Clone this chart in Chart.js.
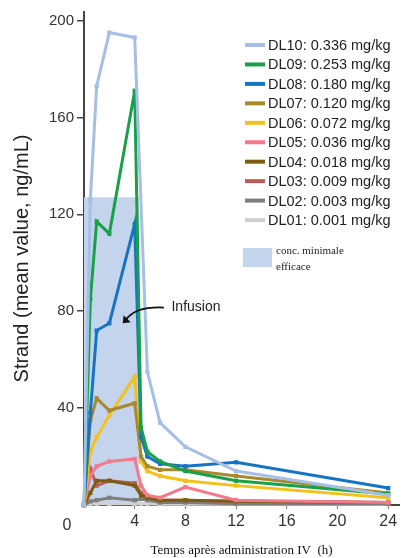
<!DOCTYPE html>
<html lang="fr">
<head>
<meta charset="UTF-8">
<title>Strand DL01-DL10</title>
<script src="https://cdn.jsdelivr.net/npm/chart.js"></script>
<style>
  html, body { margin: 0; padding: 0; background: #fff; }
  #wrap { width: 403px; height: 558px; position: relative; }
</style>
</head>
<body>
<div id="wrap"><canvas id="pkChart"></canvas></div>
<script>
// sampling times (h)
const times = [0, 0.5, 1, 2, 4, 4.5, 5, 6, 8, 12, 24];

// mean concentrations (ng/mL)
const dl10 = [0, 126, 173, 195, 193, null, 55, 34, 24, 14, 4];
const dl09 = [0, 85, 117, 112, 171, 32, 22, 18, 14, 10, 4.5];
const dl08 = [0, 38, 72, 75, 116, 28, 20, 17, 16, 17.6, 7];
const dl07 = [0, 35, 44, 39, 42, 20, 16, 14.5, 14.5, 12, 5];
const dl06 = [0, 22, 28, 37, 53, 18, 14, 12, 10, 8, 3];
const dl05 = [0, 12, 16, 18, 19, 8, 4, 3, 7.4, 2, 1];
const dl04 = [0, 5, 10, 10, 8, 4, 3, 2, 2, 1.5, 1];
const dl03 = [0, 15, 8, 10, 9, 5, 3, 2, 2, 1.5, 1];
const dl02 = [0, 1.5, 2, 3, 2, 2.5, 2, 1, 1, 0.5, 0.5];
const dl01 = [0, 0.5, 0.5, 0.5, 0.5, 0.5, 0.5, 0.3, 0.3, 0.3, 0.3];

const seriesLabels = [
  'DL10: 0.336 mg/kg', 'DL09: 0.253 mg/kg', 'DL08: 0.180 mg/kg', 'DL07: 0.120 mg/kg',
  'DL06: 0.072 mg/kg', 'DL05: 0.036 mg/kg', 'DL04: 0.018 mg/kg', 'DL03: 0.009 mg/kg',
  'DL02: 0.003 mg/kg', 'DL01: 0.001 mg/kg'
];
const seriesValues = [dl10, dl09, dl08, dl07, dl06, dl05, dl04, dl03, dl02, dl01];
const seriesColors = ['#a6bfe4', '#19a04a', '#1574c4', '#a8892c', '#f2c21b',
                      '#f27b8b', '#7b5c12', '#b65f57', '#7e7e7e', '#d0d0d0'];

// minimal effective concentration band
const mecTimes = [0, 4.33];
const mecLevel = 127;
const mecLabel = ['conc. minimale', 'efficace'];

const xTicks = [0, 4, 8, 12, 16, 20, 24];
const yTicks = [40, 80, 120, 160, 200];

const datasets = seriesValues.map((vals, i) => ({
  label: seriesLabels[i],
  data: times.map((t, j) => ({ x: t, y: vals[j] })),
  borderColor: seriesColors[i],
  backgroundColor: seriesColors[i],
  borderWidth: 3,
  pointStyle: 'rect',
  pointRadius: 3,
  pointBorderWidth: 0,
  spanGaps: true,
  clip: false,
  order: i
}));

datasets.push({
  label: 'mec',
  data: mecTimes.map(t => ({ x: t, y: mecLevel })),
  borderWidth: 0,
  pointRadius: 0,
  backgroundColor: '#c4d4ed',
  fill: 'origin',
  order: 100
});

// custom legend, origin label and infusion arrow
const extras = {
  id: 'extras',
  afterDraw(chart) {
    const ctx = chart.ctx;
    const xs = chart.scales.x, ys = chart.scales.y;
    ctx.save();

    // legend
    const lx = chart.width - 158, ly = 45, step = 19.45;
    ctx.font = '14.5px "Liberation Sans", Arial, sans-serif';
    ctx.textBaseline = 'middle';
    seriesLabels.forEach((lab, i) => {
      const y = ly + i * step;
      ctx.strokeStyle = seriesColors[i];
      ctx.lineWidth = 4;
      ctx.beginPath();
      ctx.moveTo(lx, y);
      ctx.lineTo(lx + 20, y);
      ctx.stroke();
      ctx.fillStyle = '#222';
      ctx.fillText(lab, lx + 23, y + 1);
    });
    ctx.fillStyle = '#c4d4ed';
    ctx.fillRect(lx - 2, 248, 29, 19);
    ctx.fillStyle = '#222';
    ctx.font = '11px "Liberation Serif", "Times New Roman", serif';
    ctx.fillText(mecLabel[0], lx + 31, 251);
    ctx.fillText(mecLabel[1], lx + 31, 267);

    // shared origin label
    ctx.font = '16px "Liberation Sans", Arial, sans-serif';
    ctx.fillStyle = '#333';
    ctx.textAlign = 'center';
    ctx.fillText('0', xs.left - 17, xs.top + 21);

    // Infusion label + curved arrow
    ctx.textAlign = 'left';
    ctx.font = '14px "Liberation Sans", Arial, sans-serif';
    ctx.fillStyle = '#222';
    ctx.fillText('Infusion', xs.getPixelForValue(6.9), ys.getPixelForValue(81.5));
    const sx = xs.getPixelForValue(6.3), sy = ys.getPixelForValue(81.5);
    const ex = xs.getPixelForValue(3.05), ey = ys.getPixelForValue(75);
    const cx = xs.getPixelForValue(4.0), cy = ys.getPixelForValue(82);
    ctx.strokeStyle = '#111';
    ctx.lineWidth = 1.8;
    ctx.beginPath();
    ctx.moveTo(sx, sy);
    ctx.quadraticCurveTo(cx, cy, ex + 3, ey - 3);
    ctx.stroke();
    ctx.fillStyle = '#111';
    ctx.beginPath();
    ctx.moveTo(ex, ey);
    ctx.lineTo(ex + 1, ey - 8);
    ctx.lineTo(ex + 8, ey - 1);
    ctx.closePath();
    ctx.fill();
    ctx.restore();
  }
};

new Chart(document.getElementById('pkChart'), {
  type: 'line',
  data: { datasets },
  plugins: [extras],
  options: {
    responsive: true,
    maintainAspectRatio: false,
    animation: false,
    layout: { padding: { top: 10, right: 0, left: 0, bottom: 0 } },
    plugins: { legend: { display: false }, tooltip: { enabled: false } },
    scales: {
      x: {
        type: 'linear',
        min: 0,
        max: 24.85,
        afterBuildTicks: s => { s.ticks = xTicks.map(v => ({ value: v })); },
        afterFit: s => { s.height = 53; },
        ticks: {
          color: '#333',
          font: { size: 16, family: '"Liberation Sans", Arial, sans-serif' },
          padding: 3,
          maxRotation: 0,
          callback: v => (v === 0 ? '' : v)
        },
        grid: {
          drawOnChartArea: false,
          tickLength: 4,
          color: c => (c.tick && c.tick.value === 0 ? 'rgba(0,0,0,0)' : '#777')
        },
        border: { color: '#444', width: 2 },
        title: {
          display: true,
          text: 'Temps après administration IV  (h)',
          color: '#111',
          font: { size: 13, family: '"Liberation Serif", "Times New Roman", serif' },
          padding: { top: 1, bottom: 0 }
        }
      },
      y: {
        min: 0,
        max: 203.5,
        afterBuildTicks: s => { s.ticks = yTicks.map(v => ({ value: v })); },
        afterFit: s => { s.width = 84; },
        ticks: {
          color: '#333',
          font: { size: 15, family: '"Liberation Sans", Arial, sans-serif' },
          padding: 3
        },
        grid: { drawOnChartArea: false, tickLength: 7, color: '#444', lineWidth: 1.5 },
        border: { color: '#444', width: 2 },
        title: {
          display: true,
          text: 'Strand (mean value, ng/mL)',
          color: '#222',
          font: { size: 20, family: '"Liberation Sans", Arial, sans-serif' },
          padding: { top: 10, bottom: 0 }
        }
      }
    }
  }
});
</script>
</body>
</html>
